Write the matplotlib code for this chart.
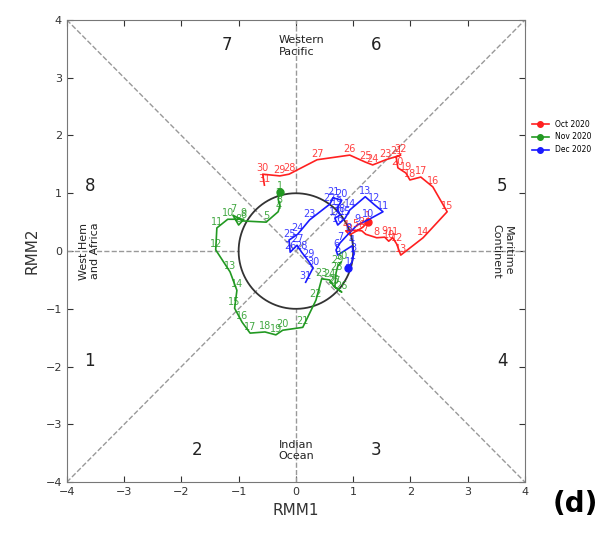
import numpy as np
import matplotlib
matplotlib.use('Agg')
import matplotlib.pyplot as plt

# RMM1 / RMM2 daily values
oct_rmm1 = [1.26, 1.15, 0.94, 0.87, 1.03, 1.15, 1.22, 1.41, 1.55, 1.62, 1.69, 1.76, 1.83, 2.22, 2.64, 2.39,
            2.18, 1.99, 1.92, 1.78, 1.75, 1.83, 1.57, 1.34, 1.21, 0.94, 0.37, -0.12, -0.28, -0.58, -0.55]
oct_rmm2 = [0.50, 0.40, 0.28, 0.35, 0.36, 0.35, 0.29, 0.23, 0.24, 0.17, 0.23, 0.12, -0.07, 0.23, 0.68, 1.11,
            1.28, 1.23, 1.35, 1.44, 1.63, 1.66, 1.58, 1.49, 1.54, 1.66, 1.58, 1.33, 1.30, 1.33, 1.14]

nov_rmm1 = [-0.28, -0.31, -0.28, -0.31, -0.52, -0.91, -1.10, -1.00, -0.91, -1.19, -1.38, -1.40, -1.15, -1.03,
            -1.07, -0.94, -0.80, -0.54, -0.35, -0.23, 0.12, 0.35, 0.45, 0.59, 0.66, 0.80, 0.68, 0.70, 0.73, 0.79]
nov_rmm2 = [1.02, 0.90, 0.78, 0.68, 0.50, 0.52, 0.62, 0.45, 0.55, 0.55, 0.40, 0.02, -0.36, -0.68,
            -0.99, -1.23, -1.42, -1.40, -1.45, -1.37, -1.32, -0.85, -0.48, -0.50, -0.61, -0.71, -0.62, -0.38, -0.26, -0.19]

dec_rmm1 = [0.91, 0.98, 1.01, 0.98, 0.73, 0.70, 0.77, 0.91, 1.07, 1.26, 1.52, 1.36, 1.21, 0.94, 0.86, 0.73,
            0.68, 0.77, 0.72, 0.80, 0.65, 0.59, 0.24, 0.03, -0.12, -0.10, 0.02, 0.10, 0.21, 0.30, 0.17]
dec_rmm2 = [-0.29, -0.19, -0.05, 0.09, -0.07, 0.02, 0.14, 0.29, 0.45, 0.54, 0.68, 0.81, 0.94, 0.71, 0.57, 0.45,
            0.57, 0.62, 0.74, 0.88, 0.92, 0.81, 0.54, 0.29, 0.19, -0.02, 0.10, -0.02, -0.16, -0.29, -0.54]

months = ['Oct 2020', 'Nov 2020', 'Dec 2020']
colors = ['#ff2020', '#229922', '#1a1aff']

phase_nums = ['1', '2', '3', '4', '5', '6', '7', '8']
phase_x = [-3.6, -1.72, 1.4, 3.6, 3.6, 1.4, -1.2, -3.6]
phase_y = [-1.9, -3.45, -3.45, -1.9, 1.12, 3.57, 3.57, 1.12]

fig = plt.figure(figsize=(6.07, 5.37), dpi=100)
ax = fig.add_axes([0.110, 0.102, 0.755, 0.861])

# guide lines
ax.plot([-4, 4], [-4, 4], ls='--', color='#999999', lw=1)
ax.plot([-4, 4], [4, -4], ls='--', color='#999999', lw=1)
ax.plot([-4, -1], [0, 0], ls='--', color='#999999', lw=1)
ax.plot([1, 4], [0, 0], ls='--', color='#999999', lw=1)
ax.plot([0, 0], [1, 4], ls='--', color='#999999', lw=1)
ax.plot([0, 0], [-4, -1], ls='--', color='#999999', lw=1)

# amplitude 1 circle
t = np.linspace(0, 2 * np.pi, 300)
ax.plot(np.cos(t), np.sin(t), color='#333333', lw=1.3)

data = [(oct_rmm1, oct_rmm2), (nov_rmm1, nov_rmm2), (dec_rmm1, dec_rmm2)]
for (x, y), c, m in zip(data, colors, months):
    ax.plot(x, y, color=c, lw=1.2)
    ax.plot(x[0], y[0], marker='o', ms=5, color=c)
    ax.plot([], [], color=c, marker='o', ms=4, lw=1.2, label=m)
    for i in range(len(x)):
        ax.text(x[i], y[i] + 0.02, str(i + 1), color=c, fontsize=7, ha='center', va='bottom', alpha=0.85)

for p, px, py in zip(phase_nums, phase_x, phase_y):
    ax.text(px, py, p, fontsize=12, ha='center', va='center', color='#222222')

ax.text(-0.3, 3.55, 'Western\nPacific', fontsize=8, ha='left', va='center', color='#222222')
ax.text(-0.3, -3.45, 'Indian\nOcean', fontsize=8, ha='left', va='center', color='#222222')
ax.text(-3.6, 0, 'West Hem\nand Africa', fontsize=8, ha='center', va='center', rotation=90, color='#222222')
ax.text(3.6, 0, 'Maritime\nContinent', fontsize=8, ha='center', va='center', rotation=-90, color='#222222')

ax.set_xlim(-4, 4)
ax.set_ylim(-4, 4)
ax.set_xticks(range(-4, 5))
ax.set_yticks(range(-4, 5))
ax.tick_params(direction='in', top=True, right=True, labelsize=8, colors='#333333', length=4)
for s in ax.spines.values():
    s.set_color('#777777')
ax.set_xlabel('RMM1', fontsize=11, color='#333333')
ax.set_ylabel('RMM2', fontsize=11, color='#333333')

fig.legend(loc='upper left', bbox_to_anchor=(0.865, 0.79), frameon=False, fontsize=5.5,
           handlelength=2.2, labelspacing=0.5)
fig.text(0.985, 0.035, '(d)', fontsize=20, fontweight='bold', ha='right', va='bottom')

fig.savefig('out.png', dpi=100)
